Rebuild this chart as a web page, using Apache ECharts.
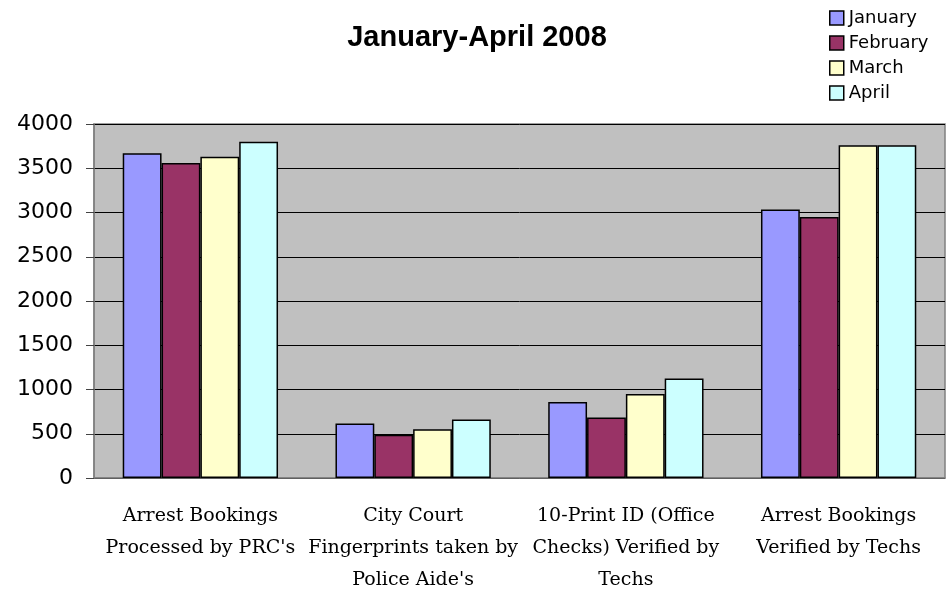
<!DOCTYPE html>
<html><head><meta charset="utf-8">
<script src="https://cdn.jsdelivr.net/npm/echarts@6/dist/echarts.min.js"></script>
<style>html,body{margin:0;padding:0;background:#fff}#c{width:947px;height:591px}</style>
</head><body><div id="c"></div>
<script>
var categories = ["Arrest Bookings\nProcessed by PRC's", "City Court\nFingerprints taken by\nPolice Aide's", "10-Print ID (Office\nChecks) Verified by\nTechs", "Arrest Bookings\nVerified by Techs"];
var seriesNames = ["January", "February", "March", "April"];
var january = [3670, 615, 860, 3035];
var february = [3560, 490, 685, 2950];
var march = [3630, 550, 950, 3760];
var april = [3800, 660, 1125, 3760];
var yTicks = [0, 500, 1000, 1500, 2000, 2500, 3000, 3500, 4000];

var colors = ['#9999FF', '#993366', '#FFFFCC', '#CCFFFF'];
var values = [january, february, march, april];
var chart = echarts.init(document.getElementById('c'), null, {renderer: 'canvas'});
chart.setOption({
  animation: false,
  title: {text: 'January-April 2008', left: 472, top: 18, textAlign: 'center',
    textStyle: {fontFamily: 'Liberation Sans', fontWeight: 'bold', fontSize: 29, color: '#000'}},
  legend: {orient: 'vertical', left: 829, top: 9, padding: 0, itemWidth: 14, itemHeight: 14, itemGap: 7,
    icon: 'rect',
    itemStyle: {borderColor: '#000', borderWidth: 1.5},
    textStyle: {fontFamily: 'DejaVu Sans', fontSize: 18, color: '#000', padding: [0,0,0,0]},
    data: seriesNames},
  grid: {left: 94, right: 2, top: 124, bottom: 113, outerBoundsMode: 'none', containLabel: false,
    backgroundColor: '#C0C0C0', show: true, borderColor: '#808080', borderWidth: 1.5},
  xAxis: {type: 'category', data: categories,
    axisLine: {lineStyle: {color: '#808080', width: 1.5}},
    axisTick: {length: 8, lineStyle: {color: '#000'}},
    axisLabel: {interval: 0, fontFamily: 'DejaVu Serif', fontSize: 19, color: '#000', lineHeight: 32, margin: 22}},
  yAxis: {type: 'value', min: yTicks[0], max: yTicks[yTicks.length-1], interval: 500,
    axisLine: {show: true, lineStyle: {color: '#808080', width: 1.5}},
    axisTick: {show: true, length: 8, lineStyle: {color: '#444'}},
    splitLine: {lineStyle: {color: '#000', width: 1}},
    axisLabel: {fontFamily: 'DejaVu Sans', fontSize: 22, color: '#000', margin: 21,
      formatter: function (v) { return String(v); }}},
  series: seriesNames.map(function (n, i) {
    return {name: n, type: 'bar', data: values[i], barGap: '0%', barCategoryGap: '27%',
      itemStyle: {color: colors[i], borderColor: '#000', borderWidth: 1.5}};
  })
});
</script></body></html>
